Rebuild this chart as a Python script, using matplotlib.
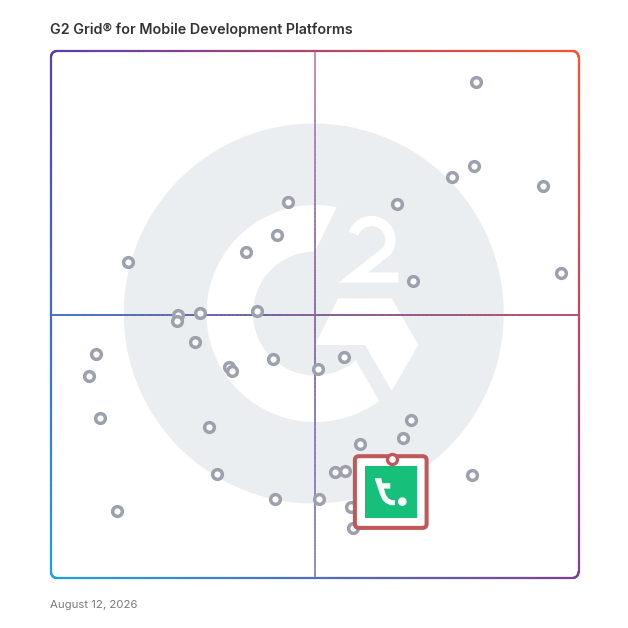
import numpy as np
import matplotlib
matplotlib.use("Agg")
import matplotlib.pyplot as plt
from matplotlib.patches import Circle, Polygon, FancyBboxPatch, PathPatch, Rectangle
from matplotlib.path import Path
from matplotlib.collections import LineCollection
import matplotlib.transforms as mtransforms

# ---------------- data ----------------
title = "G2 Grid\u00ae for Mobile Development Platforms"
date_label = "August 12, 2026"

# satisfaction (x, 0-100) and market presence (y, 0-100)
satisfaction = [80.6, 80.2, 76.1, 93.2, 65.5, 44.9, 42.9, 36.9, 14.6, 96.6,
                68.6, 24.1, 23.8, 28.3, 39.0, 27.3, 8.5, 7.2, 33.7, 34.4,
                42.0, 55.6, 50.6, 9.3, 29.9, 68.3, 66.7, 58.5, 31.4, 53.8,
                55.8, 79.9, 42.4, 50.8, 12.6, 56.8, 57.3]
market_presence = [94.1, 78.1, 76.0, 74.4, 71.0, 71.3, 65.1, 61.8, 60.0, 57.8,
                   56.3, 50.0, 48.7, 50.3, 50.7, 44.7, 42.5, 38.3, 40.0, 39.2,
                   41.6, 41.9, 39.6, 30.4, 28.7, 30.0, 26.6, 25.4, 19.8, 20.1,
                   20.3, 19.5, 15.0, 15.0, 12.8, 13.5, 9.4]
highlight_x = [64.7]
highlight_y = [22.6]

# ---------------- figure ----------------
fig = plt.figure(figsize=(6.28, 6.28), dpi=100)
fig.patch.set_facecolor("white")
W, H = 527.5, 527.0
ax = fig.add_axes([51 / 628, 50 / 628, W / 628, H / 628])
ax.set_xlim(0, 100)
ax.set_ylim(0, 100)
ax.axis("off")

# pixel transforms (y down)
T_px = mtransforms.Affine2D().scale(1, -1) + mtransforms.ScaledTranslation(0, 1, ax.transAxes)
T_c = mtransforms.Affine2D().scale(1, -1) + mtransforms.ScaledTranslation(0.5, 0.5, ax.transAxes)

TL = np.array([90, 62, 175]) / 255
TR = np.array([255, 82, 42]) / 255
BL = np.array([32, 160, 222]) / 255
BR = np.array([125, 62, 160]) / 255


def grad(u, v):
    top = TL * (1 - u) + TR * u
    bot = BL * (1 - u) + BR * u
    return np.clip(top * (1 - v) + bot * v, 0, 1)


# ---------------- watermark ----------------
wm_col = "#EBEEF1"
ax.add_patch(Circle((-1, -1), 190, transform=T_c, facecolor=wm_col, edgecolor="none", zorder=1))

gc = np.array([0.25, -1.0])
Ro, Ri = 108.5, 62.0
th_o = np.radians(np.linspace(78.5, 306.4, 120))
th_i = np.radians(np.linspace(310.9, 90.0, 120))
outer = np.c_[gc[0] + Ro * np.cos(th_o), gc[1] - Ro * np.sin(th_o)]
inner = np.c_[gc[0] + Ri * np.cos(th_i), gc[1] - Ri * np.sin(th_i)]
ax.add_patch(Polygon(np.vstack([outer, inner]), closed=True, transform=T_c,
                     facecolor="white", edgecolor="none", zorder=1.5))
chev = [(23.55, -16.2), (76.95, -16.2), (103.55, 30.5), (76.95, 76.2), (50.25, 30.5), (0.25, 30.5)]
ax.add_patch(Polygon(chev, closed=True, transform=T_c, facecolor="white", edgecolor="none", zorder=1.5))

# the "2"
bc = np.array([56.75, -74.5])
br = 19.0
tb = np.radians(np.linspace(160, -35, 40))
bowl = np.c_[bc[0] + br * np.cos(tb), bc[1] - br * np.sin(tb)]
two_pts = np.vstack([bowl, [[38.5, -37.0], [83.55, -37.0]]])
codes = [Path.MOVETO] + [Path.LINETO] * (len(two_pts) - 1)
ax.add_patch(PathPatch(Path(two_pts, codes), transform=T_c, facecolor="none",
                       edgecolor="white", lw=7.3, joinstyle="miter", capstyle="butt", zorder=1.5))

# ---------------- quadrant lines ----------------
n = 200
xs = np.linspace(0, 100, n + 1)
hsegs = [[(xs[i], 50), (xs[i + 1], 50)] for i in range(n)]
hcols = [grad((xs[i] + xs[i + 1]) / 200, 0.5) for i in range(n)]
ax.add_collection(LineCollection(hsegs, colors=hcols, linewidths=1.3, zorder=2, capstyle="round"))

vtop = np.array([192, 138, 184]) / 255
vmid = np.array([138, 106, 166]) / 255
vbot = np.array([140, 134, 202]) / 255
ys = np.linspace(100, 0, n + 1)
vsegs = [[(50, ys[i]), (50, ys[i + 1])] for i in range(n)]
vcols = []
for i in range(n):
    t = i / n
    if t < 0.5:
        c = vtop * (1 - 2 * t) + vmid * 2 * t
    else:
        c = vmid * (2 - 2 * t) + vbot * (2 * t - 1)
    vcols.append(c)
ax.add_collection(LineCollection(vsegs, colors=vcols, linewidths=1.25, zorder=2, capstyle="round"))

# ---------------- border ----------------
r = 6.0


def arc(cx, cy, a0, a1, m=16):
    a = np.radians(np.linspace(a0, a1, m))
    return np.c_[cx + r * np.cos(a), cy + r * np.sin(a)]


def edge(p0, p1, m=120):
    t = np.linspace(0, 1, m)[:, None]
    return np.array(p0) * (1 - t) + np.array(p1) * t


pieces = [arc(r, r, 180, 270), edge((r, 0), (W - r, 0)),
          arc(W - r, r, 270, 360), edge((W, r), (W, H - r)),
          arc(W - r, H - r, 0, 90), edge((W - r, H), (r, H)),
          arc(r, H - r, 90, 180), edge((0, H - r), (0, r))]
P = np.vstack(pieces)
bsegs, bcols = [], []
for i in range(len(P) - 1):
    bsegs.append([P[i], P[i + 1]])
    m = (P[i] + P[i + 1]) / 2
    bcols.append(grad(m[0] / W, m[1] / H))
ax.add_collection(LineCollection(bsegs, colors=bcols, linewidths=1.6, transform=T_px,
                                 capstyle="round", clip_on=False, zorder=6))

# ---------------- product dots ----------------
ax.plot(satisfaction, market_presence, linestyle="none", marker="o", ms=7.0,
        mfc="white", mec="#9CA1AD", mew=2.5, zorder=4, clip_on=False)

# ---------------- highlighted product ----------------
T_hl = mtransforms.Affine2D().scale(1, -1) + mtransforms.ScaledTranslation(
    highlight_x[0], highlight_y[0], ax.transData)
red = "#C0585A"
ax.add_patch(FancyBboxPatch((-37.4, -2.7), 71.7, 71.7,
                            boxstyle="round,pad=0,rounding_size=4", transform=T_hl,
                            facecolor="white", edgecolor=red, lw=2.9, zorder=7, clip_on=False))
ax.add_patch(Rectangle((-27.7, 7.0), 52.5, 52.0, transform=T_hl, facecolor="#16C07A",
                       edgecolor="none", zorder=7.5, clip_on=False))
t_abs = [(375.0, 478.3), (381.7, 478.3), (382.7, 483.3), (390.7, 483.3), (390.7, 488.7),
         (384.3, 488.7), (386.3, 495.0), (389.0, 498.7), (392.3, 500.3), (395.3, 500.3),
         (395.3, 505.3), (391.0, 505.3), (386.3, 503.3), (383.0, 500.0), (380.7, 495.0)]
t_rel = [(x - 392.7, y - 459.0) for x, y in t_abs]
ax.add_patch(Polygon(t_rel, closed=True, transform=T_hl, facecolor="white", edgecolor="none",
                     zorder=8, clip_on=False))
ax.add_patch(Circle((402.7 - 392.7, 501.7 - 459.0), 4.3, transform=T_hl, facecolor="white",
                    edgecolor="none", zorder=8, clip_on=False))
ax.plot(highlight_x, highlight_y, linestyle="none", marker="o", ms=7.2, mfc="white",
        mec=red, mew=2.4, zorder=9, clip_on=False)

# ---------------- texts ----------------
fig.text(50 / 628, 1 - 34.3 / 628, title, fontsize=10.3, fontweight="semibold",
         family=["Inter", "DejaVu Sans"], color="#333333", va="baseline", ha="left")
fig.text(50.5 / 628, 1 - 608.3 / 628, date_label, fontsize=8.2,
         family=["Inter", "DejaVu Sans"], color="#7a7a7a", va="baseline", ha="left")

fig.savefig("out.png", dpi=100, facecolor="white")
